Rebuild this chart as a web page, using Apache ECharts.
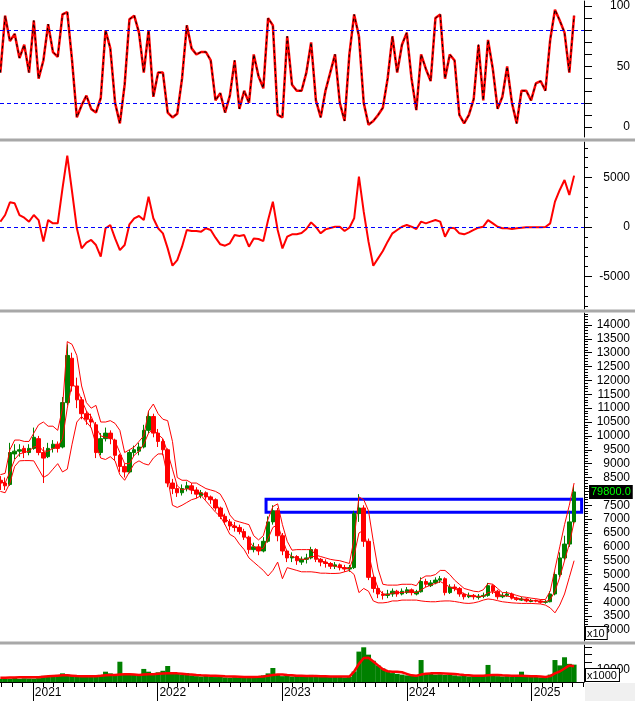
<!DOCTYPE html>
<html><head><meta charset="utf-8">
<script src="https://cdn.jsdelivr.net/npm/echarts@6/dist/echarts.min.js"></script>
<style>html,body{margin:0;padding:0;background:#fff}#c{width:635px;height:701px}</style>
</head><body><div id="c"></div><script>
const dates = ['2020-09-28','2020-10-12','2020-10-26','2020-11-09','2020-11-23','2020-12-07','2020-12-21',
'2021-01-04','2021-01-18','2021-02-01','2021-02-15','2021-03-01','2021-03-15','2021-03-29','2021-04-12','2021-04-26','2021-05-10','2021-05-24','2021-06-07','2021-06-21','2021-07-05','2021-07-19','2021-08-02','2021-08-16','2021-08-30','2021-09-13','2021-09-27','2021-10-11','2021-10-25','2021-11-08','2021-11-22','2021-12-06','2021-12-20',
'2022-01-03','2022-01-17','2022-01-31','2022-02-14','2022-02-28','2022-03-14','2022-03-28','2022-04-11','2022-04-25','2022-05-09','2022-05-23','2022-06-06','2022-06-20','2022-07-04','2022-07-18','2022-08-01','2022-08-15','2022-08-29','2022-09-12','2022-09-26','2022-10-10','2022-10-24','2022-11-07','2022-11-21','2022-12-05','2022-12-19',
'2023-01-02','2023-01-16','2023-01-30','2023-02-13','2023-02-27','2023-03-13','2023-03-27','2023-04-10','2023-04-24','2023-05-08','2023-05-22','2023-06-05','2023-06-19','2023-07-03','2023-07-17','2023-07-31','2023-08-14','2023-08-28','2023-09-11','2023-09-25','2023-10-09','2023-10-23','2023-11-06','2023-11-20','2023-12-04','2023-12-18',
'2024-01-01','2024-01-15','2024-01-29','2024-02-12','2024-02-26','2024-03-11','2024-03-25','2024-04-08','2024-04-22','2024-05-06','2024-05-20','2024-06-03','2024-06-17','2024-07-01','2024-07-15','2024-07-29','2024-08-12','2024-08-26','2024-09-09','2024-09-23','2024-10-07','2024-10-21','2024-11-04','2024-11-18','2024-12-02','2024-12-16','2024-12-30',
'2025-01-13','2025-01-27','2025-02-10','2025-02-24','2025-03-10','2025-03-24','2025-04-07','2025-04-21','2025-05-05'];

const stoch = [45,92,71,77,57,68,45,88,40,55, 85,62,58,93,95,55,8,18,26,15, 12,24,80,65,20,3,35,89,92,78,
45,80,25,45,45,12,8,11,40,84, 65,60,62,62,55,22,28,12,26,55, 15,30,20,60,42,32,90,84,10,8,
75,35,30,30,45,70,22,8,30,45, 60,20,5,60,93,75,20,2,5,10, 16,40,75,45,68,78,40,14,60,48,
38,90,93,40,60,55,10,3,10,23, 68,22,72,48,15,25,50,20,3,30, 30,22,36,38,30,72,97,88,78,45, 92];

const macd = [540,1210,2490,2390,1210,940,540,1210,700,-1480, 700,370,370,3900,7200,3570,-130,-2160,-1580,-1310,
-1820,-3000,-130,200,-1150,-2330,-1820,270,880,1110, 700,3070,880,-130,-640,-2160,-3910,-3340,-1990,-300,
-400,-400,-470,-130,-300,-1080,-1750,-1890,-1650,-810, -910,-810,-1990,-1150,-1210,-1420,700,2560,-300,-2160,
-980,-740,-740,-610,-200,470,0,-640,-240,-100, 30,30,-400,-70,880,5100,1550,-1480,-3910,-3170,
-2430,-1480,-640,-300,30,200,30,-200,540,370, 540,700,540,-980,-70,-130,-640,-740,-540,-300,
-70,30,700,370,30,-130,-130,-200,-130,-70, -30,-30,-30,-30,0,370,2560,3740,4750,3240, 5190];

// [open, close, low, high]
const ohlc = [[8400,8300,8050,8550],[8300,8200,8050,8500],[8250,9400,8200,9750],[9350,9450,9150,9700],[9450,9500,9250,9700],
[9550,9400,9200,9650],[9400,9550,9300,9700],[9550,9950,9500,10300],[9900,9400,9300,10000],[9400,9200,8300,9600],
[9250,9550,9200,9750],[9550,9700,9400,9850],[9700,9550,9400,9800],[9600,11200,9550,11400],[11200,12900,11100,13300],
[12800,11800,11600,13000],[11800,11300,11000,12100],[11300,10800,10600,11400],[10800,10600,10400,10900],[10600,10500,10300,10800],
[10400,9400,9200,10500],[9400,9900,9300,10100],[9900,10100,9800,10300],[10100,9900,9700,10200],[9850,9300,9100,9900],
[9300,8900,8700,9350],[8900,8700,8500,9000],[8700,9400,8650,9500],[9400,9500,9250,9650],[9450,9600,9300,9750],
[9600,10200,9550,10400],[10200,10700,10100,10900],[10700,10100,9950,10800],[10100,9800,9600,10250],[9800,9500,9300,9900],
[9500,8300,8150,9550],[8300,8100,7900,8450],[8100,7950,7800,8250],[7950,8100,7850,8250],[8100,8200,8000,8350],
[8200,8050,7900,8300],[8050,7900,7750,8150],[7850,7950,7750,8050],[7950,7800,7700,8000],[7800,7700,7550,7850],
[7700,7400,7300,7750],[7400,7100,7000,7450],[7100,6900,6800,7200],[6900,6750,6600,7000],[6750,6700,6550,6900],
[6700,6550,6450,6800],[6550,6350,6250,6650],[6350,5900,5750,6400],[5900,6000,5800,6150],[6000,5850,5700,6100],
[5850,6200,5800,6350],[6200,6900,6150,7100],[6900,7300,6800,7500],[7300,6400,6200,7400],[6400,5850,5700,6500],
[5850,5600,5450,5900],[5600,5650,5450,5800],[5650,5500,5350,5700],[5450,5550,5350,5650],[5550,5600,5400,5750],
[5600,5900,5550,6000],[5900,5550,5450,5950],[5550,5450,5300,5600],[5450,5400,5250,5550],[5400,5300,5200,5450],
[5300,5350,5200,5450],[5350,5250,5150,5400],[5250,5200,5100,5350],[5200,5250,5100,5350],[5250,7200,5200,7300],
[7200,7400,6900,7900],[7400,6200,6000,7500],[6200,4900,4800,6300],[4900,4500,4350,5000],[4500,4300,4150,4600],
[4300,4250,4100,4400],[4250,4300,4150,4450],[4300,4400,4200,4500],[4400,4300,4200,4450],[4300,4400,4250,4500],
[4350,4450,4300,4550],[4450,4350,4250,4500],[4300,4380,4250,4450],[4380,4750,4350,4900],[4750,4650,4550,4850],
[4600,4700,4550,4800],[4700,4800,4650,4900],[4800,4850,4700,4950],[4850,4350,4250,4900],[4350,4550,4300,4650],
[4550,4500,4400,4650],[4500,4300,4200,4550],[4300,4200,4100,4350],[4200,4250,4150,4350],[4250,4200,4100,4300],
[4180,4220,4100,4300],[4220,4250,4150,4350],[4250,4600,4200,4700],[4600,4400,4300,4650],[4400,4200,4100,4450],
[4200,4250,4150,4350],[4250,4300,4200,4400],[4300,4150,4100,4350],[4150,4100,4050,4200],[4080,4120,4050,4200],
[4120,4050,4000,4150],[4030,4070,4000,4120],[4070,4050,4000,4100],[4050,4000,3950,4100],[4000,4020,3950,4080],
[4020,4300,4000,4400],[4300,5000,4250,5100],[5000,5600,4900,5800],[5600,6100,5500,6400],[6100,6900,6000,7300],
[6900,7980,6800,8200]];

const bandUpper = [8600,8650,9500,9850,9850,9800,9800,10100,10400,10500, 10350,10350,10200,11000,13400,13300,12900,11800,11200,11000,
11100,10500,10500,10550,10450,10200,9400,9500,9600,9800, 10000,10900,11150,10800,10600,10550,9800,8500,8400,8400,
8300,8300,8200,8100,8050,8000,7900,7600,7150,6950, 6900,6850,6800,6400,6250,6400,7000,7450,7550,6800,
6200,5880,5900,5900,5900,5900,5700,5650,5600,5550, 5520,5500,5450,5400,6300,7800,7700,7300,6200,5200,
4650,4620,4620,4620,4650,4650,4650,4600,4850,4950, 4950,5000,5150,5150,5000,4800,4650,4500,4450,4400,
4380,4450,4680,4650,4500,4350,4350,4300,4250,4200, 4180,4150,4130,4100,4100,4400,5200,6000,6800,7500, 8300];

const bandMid = [8350,8300,8700,9150,9350,9400,9450,9600,9650,9450, 9450,9550,9600,9900,11000,11900,11700,11300,10900,10700,
10300,10000,9950,9950,9800,9400,9000,9000,9300,9450, 9700,10100,10250,10050,9900,9400,8800,8200,8050,8100,
8050,8000,7950,7850,7750,7600,7300,7050,6850,6750, 6600,6450,6200,6000,5900,5950,6300,6700,6800,6300,
5800,5650,5600,5550,5550,5650,5650,5500,5450,5350, 5300,5250,5250,5200,5700,6500,6600,5800,5000,4500,
4300,4280,4330,4350,4350,4380,4370,4350,4450,4550, 4620,4680,4750,4650,4550,4480,4420,4300,4250,4220,
4200,4220,4350,4380,4300,4250,4220,4200,4150,4120, 4080,4060,4050,4030,4020,4100,4400,4900,5500,6100, 6900];

const bandLower = [8000,7950,8300,8900,9100,9110,9110,9100,8800,8500, 8600,8800,9000,8700,8800,9700,10500,10700,10500,10300,
9700,9200,9150,9250,9100,8600,8400,8700,9000,9100, 9000,8950,9200,9350,9350,8500,7500,7420,7500,7600,
7700,7750,7850,7650,7450,7250,7100,6800,6450,6350, 6100,5900,5600,5450,5300,5150,4950,5150,5450,4850,
5250,5200,5150,5100,5100,5100,5080,5050,5050,5040, 5040,5050,5100,5150,5000,4350,4500,4400,4050,3980,
3980,4000,4050,4050,4080,4080,4080,4080,4050,4030, 4020,4020,4040,4050,4050,4030,4000,3970,3960,3980,
4020,4080,4120,4100,4060,4020,4000,3980,3970,3960, 3960,3960,3950,3940,3900,3800,3620,3900,4300,4900, 5500];

const volume = [4200,4500,4400,4800,4300,4600,4500,4400,4700,6200, 5800,6500,6800,7800,7000,6500,5800,6000,5600,5800,
6000,6800,8900,7800,6500,15400,7200,6800,7000,6200, 10700,8900,7000,8500,9500,12600,8500,7500,7000,8000,
6500,6000,5800,6200,5500,5400,5600,5200,5000,5300, 5000,5200,5500,5000,5600,6500,7800,11300,7000,6000,
6200,5800,6500,5600,6000,6800,5800,5500,5600,5400, 5800,5600,5200,5500,9000,22000,24800,20000,16000,13000,
11000,9500,8000,7500,7000,6500,6800,6000,16500,8000, 7500,7000,7200,6800,7000,6500,6000,6200,5800,6000,
5800,6200,13300,7000,6000,5800,6000,5500,6500,8900, 5800,5500,5600,5200,5000,7000,16500,13000,18300,14000, 13500];

const volumeMA = [5000,5000,5100,5100,5200,5200,5200,5300,5300,5600, 5900,6100,6300,6500,6500,6300,6100,6000,5900,5900,
6000,6200,6500,6800,6800,7100,7300,7200,7000,6800, 7000,7200,7300,7500,7700,7900,7900,7800,7500,7200,
7000,6700,6500,6400,6300,6200,6100,5900,5800,5700, 5600,5500,5500,5500,5600,5800,6200,6800,7100,7000,
6700,6500,6300,6200,6100,6100,6100,6000,5900,5800, 5800,5700,5700,5700,9000,14000,17800,18000,15500,13000,
10500,9200,8900,8800,8500,7500,6500,6300,7000,7600, 7800,7800,7800,7700,7600,7400,7000,6700,6500,6300,
6200,6200,6500,6800,6700,6500,6400,6300,6200,6200, 6100,6000,5900,5700,5400,6000,7800,9000,11000,13000, 12500];

const yearLabels = ['2021','2022','2023','2024','2025'];
const stochLabels = [0, 50, 100];
const macdLabels = [-5000, 0, 5000];
const priceLabels = [3000,3500,4000,4500,5000,5500,6000,6500,7000,7500,8000,8500,9000,9500,10000,10500,11000,11500,12000,12500,13000,13500,14000];
const volumeLabels = [10000];
const zone = {from: '2022-11-15', to: '2025-05-27', low: 7250, high: 7720};
const refLines = {stochHigh: 80, stochLow: 20, macdZero: 0};

function ts(s){ return Date.UTC(+s.slice(0,4), +s.slice(5,7)-1, +s.slice(8,10)); }
const X = dates.map(ts);
const xMin = ts('2020-09-27'), xMax = ts('2025-06-03');
const yearTicks = yearLabels.map(y => Date.UTC(+y,0,1));
const monthTicks = [];
for (let y = 2020; y <= 2025; y++) for (let m = 0; m < 12; m++) { const t = Date.UTC(y,m,1); if (t > xMin && t < xMax) monthTicks.push(t); }
function range(a,b,s){ const r=[]; for(let v=a; v<=b; v+=s) r.push(v); return r; }

const pair = arr => arr.map((v,i) => [X[i], v]);
const BLK = '#000', RED = '#ff0000', GRN = '#008000';
const font = {color: BLK, fontSize: 12, fontFamily: 'Arial'};

const grids = [
  {left: 0, right: 51, top: 0, height: 137},
  {left: 0, right: 51, top: 142, height: 167},
  {left: 0, right: 51, top: 313, height: 328},
  {left: 0, right: 51, top: 645, height: 37}
];
function hx(g){ return {type:'value', gridIndex:g, min:xMin, max:xMax, show:false, splitLine:{show:false}}; }
function yax(g, min, max, ticks, labels, len){
  return {type:'value', gridIndex:g, position:'right', min:min, max:max, splitLine:{show:false},
    axisLine:{show:true, lineStyle:{color:BLK, width:1}},
    axisTick:{show:true, customValues:ticks, length:len, lineStyle:{color:BLK}},
    axisLabel: labels ? Object.assign({show:true, customValues:labels, align:'right', margin:46, formatter: v => String(v)}, font) : {show:false}};
}
function yminor(g, min, max, ticks){
  return {type:'value', gridIndex:g, position:'right', min:min, max:max, splitLine:{show:false},
    axisLine:{show:false}, axisTick:{show:true, customValues:ticks, length:4, lineStyle:{color:BLK}}, axisLabel:{show:false}};
}

const lastClose = ohlc[ohlc.length-1][1];
const dashBlue = {color:'#0000ff', type:[4,3], width:1};

const option = {
  animation: false,
  backgroundColor: '#fff',
  grid: grids,
  xAxis: [hx(0), hx(1), hx(2),
    {type:'value', gridIndex:3, min:xMin, max:xMax, position:'bottom',
      axisLine:{show:true, onZero:false, lineStyle:{color:BLK}},
      axisTick:{show:true, customValues:yearTicks, length:19, lineStyle:{color:BLK}},
      axisLabel:Object.assign({show:true, customValues:yearTicks, align:'left', margin:5, padding:[0,0,0,2],
        formatter: v => yearLabels[yearTicks.indexOf(v)] || String(new Date(v).getUTCFullYear())}, font),
      splitLine:{show:false}},
    {type:'value', gridIndex:3, min:xMin, max:xMax, position:'bottom',
      axisLine:{show:false, onZero:false}, axisTick:{show:true, customValues:monthTicks, length:5, lineStyle:{color:BLK}},
      axisLabel:{show:false}, splitLine:{show:false}}
  ],
  yAxis: [
    yax(0, -8.2, 104.1, range(0,100,10), stochLabels, 8),
    yax(1, -8283, 8586, macdLabels, macdLabels, 8),
    yminor(1, -8283, 8586, range(-8000,8000,1000)),
    yax(2, 2605, 14431, priceLabels, priceLabels, 8),
    yminor(2, 2605, 14431, range(2700,14400,100)),
    yax(3, 2176, 26300, [5000,10000,15000,20000,25000], volumeLabels, 8)
  ],
  series: [
    {type:'line', xAxisIndex:0, yAxisIndex:0, data:pair(stoch), showSymbol:false, lineStyle:{color:RED, width:2.5},
      markLine:{silent:true, symbol:['none','none'], label:{show:false}, lineStyle:dashBlue,
        data:[{yAxis:refLines.stochHigh},{yAxis:refLines.stochLow}]}},
    {type:'line', xAxisIndex:0, yAxisIndex:0, data:pair(stoch), showSymbol:false, lineStyle:{color:BLK, width:1, type:[3,3]}},
    {type:'line', xAxisIndex:1, yAxisIndex:1, data:pair(macd), showSymbol:false, lineStyle:{color:RED, width:2},
      markLine:{silent:true, symbol:['none','none'], label:{show:false}, lineStyle:dashBlue, data:[{yAxis:refLines.macdZero}]}},
    {type:'line', xAxisIndex:2, yAxisIndex:3, data:pair(bandUpper), showSymbol:false, lineStyle:{color:RED, width:1}},
    {type:'line', xAxisIndex:2, yAxisIndex:3, data:pair(bandMid), showSymbol:false, lineStyle:{color:RED, width:1}},
    {type:'line', xAxisIndex:2, yAxisIndex:3, data:pair(bandLower), showSymbol:false, lineStyle:{color:RED, width:1}},
    {type:'candlestick', xAxisIndex:2, yAxisIndex:3, barWidth:4,
      data: ohlc.map((r,i) => [X[i], r[0], r[1], r[2], r[3]]), encode:{x:0, y:[1,2,3,4]},
      itemStyle:{color:GRN, color0:RED, borderColor:GRN, borderColor0:RED, borderWidth:1},
      markArea:{silent:true, itemStyle:{color:'rgba(0,0,0,0)', borderColor:'#0000ff', borderWidth:3},
        data:[[{xAxis:ts(zone.from), yAxis:zone.low},{xAxis:ts(zone.to), yAxis:zone.high}]]},
      markLine:{silent:true, symbol:['none','none'], lineStyle:{color:'rgba(0,0,0,0)', width:0},
        label:{show:true, position:'end', distance:5, formatter:(lastClose*10).toFixed(1), backgroundColor:'#000',
          color:'#00ff00', fontSize:11, fontFamily:'Arial', padding:[2,2,1,2]},
        data:[{yAxis:lastClose}]}},
    {type:'bar', xAxisIndex:3, yAxisIndex:5, data:pair(volume), barWidth:5, itemStyle:{color:GRN}},
    {type:'line', xAxisIndex:3, yAxisIndex:5, data:pair(volumeMA), showSymbol:false, lineStyle:{color:RED, width:2.5}}
  ],
  graphic: [
    {type:'rect', shape:{x:0, y:138.5, width:635, height:3}, style:{fill:'#a8a8a8'}, z:100},
    {type:'rect', shape:{x:0, y:309.5, width:635, height:3}, style:{fill:'#a8a8a8'}, z:100},
    {type:'rect', shape:{x:0, y:641.5, width:635, height:3}, style:{fill:'#a8a8a8'}, z:100},
    {type:'rect', shape:{x:585, y:683, width:50, height:18}, style:{fill:'#f0f0f0'}, z:100},
    {type:'text', x:586, y:627, z:100, style:{text:'x10', fill:BLK, font:'11px Arial', backgroundColor:'#fff', borderColor:BLK, borderWidth:1, padding:[1,2,0,1]}},
    {type:'text', x:586, y:669, z:100, style:{text:'x1000', fill:BLK, font:'11px Arial', backgroundColor:'#fff', borderColor:BLK, borderWidth:1, padding:[1,2,0,1]}}
  ]
};
echarts.init(document.getElementById('c'), null, {renderer:'canvas'}).setOption(option);
</script></body></html>
